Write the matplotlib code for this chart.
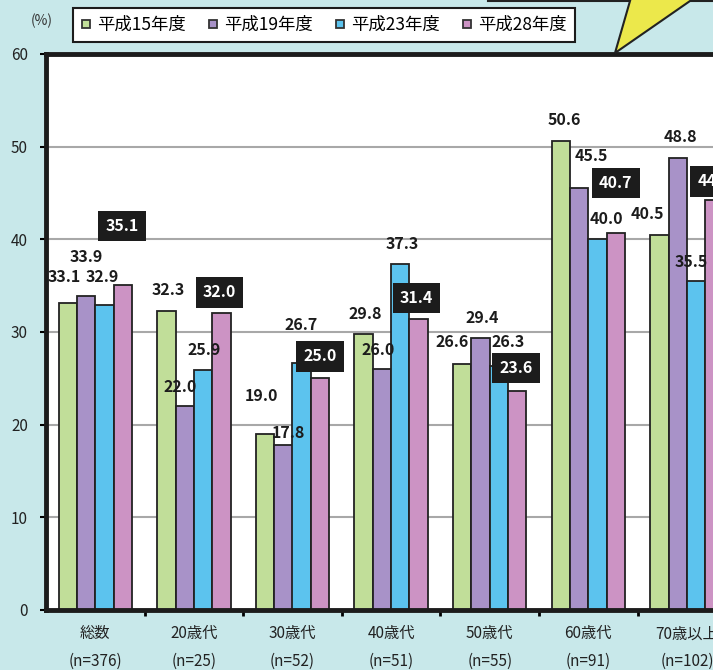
import numpy as np
import matplotlib
matplotlib.use('Agg')
import matplotlib.pyplot as plt
from matplotlib.lines import Line2D
from matplotlib.patches import Polygon

plt.rcParams['font.family'] = ['Noto Sans CJK JP', 'DejaVu Sans']

# Datos
grupos = ['総数', '20歳代', '30歳代', '40歳代', '50歳代', '60歳代', '70歳以上']
muestras = ['(n=376)', '(n=25)', '(n=52)', '(n=51)', '(n=55)', '(n=91)', '(n=102)']
series = ['平成15年度', '平成19年度', '平成23年度', '平成28年度']
h15 = [33.1, 32.3, 19.0, 29.8, 26.6, 50.6, 40.5]
h19 = [33.9, 22.0, 17.8, 26.0, 29.4, 45.5, 48.8]
h23 = [32.9, 25.9, 26.7, 37.3, 26.3, 40.0, 35.5]
h28 = [35.1, 32.0, 25.0, 31.4, 23.6, 40.7, 44.2]

colores = ['#c1de99', '#a892c8', '#5cc3ee', '#cc93c4']

# desplazamiento de cada etiqueta (pixeles) respecto a la punta de la barra
desp = [
    [(-4, 26), (1.5, 21), (-3, 38), (2, 20), (-10, 22), (3, 21), (-12.5, 20.5)],
    [(0, 39), (-5, 19), (5.5, 12), (-4, 19), (2, 19.5), (12, 32), (3, 20.6)],
    [(-2, 28), (1, 20), (-1, 37.5), (1.5, 20), (9, 24), (9, 20), (-5, 19)],
    [(-1, 59), (-2, 21), (0, 22), (-2, 21), (-1.5, 23), (0, 50), (0, 19)],
]

W, H = 713, 670
fig = plt.figure(figsize=(W / 100, H / 100), dpi=100)
fig.patch.set_facecolor('#c8e8ea')

ax = fig.add_axes([46 / W, (H - 610) / H, 98.6 * 7 / W, (610 - 54) / H])
ax.set_facecolor('white')

x = np.arange(len(grupos))
ancho = 0.186
for j, vals in enumerate([h15, h19, h23, h28]):
    pos = x + (j - 1.5) * ancho
    ax.bar(pos, vals, width=ancho, color=colores[j], edgecolor='#222222',
           linewidth=1.3, zorder=2)
    for i, v in enumerate(vals):
        dx, dy = desp[j][i]
        if j == 3:
            ax.annotate(f'{v:.1f}', xy=(pos[i], v), xytext=(dx, dy),
                        textcoords='offset pixels', ha='center', va='center',
                        fontsize=11.5, fontweight='bold', color='white', zorder=5,
                        bbox=dict(boxstyle='square,pad=0.45', fc='#1c1c1c', ec='none'))
        else:
            ax.annotate(f'{v:.1f}', xy=(pos[i], v), xytext=(dx, dy),
                        textcoords='offset pixels', ha='center', va='center',
                        fontsize=11.5, fontweight='bold', color='#1c1c1c', zorder=5)

ax.set_xlim(-0.5, 6.5)
ax.set_ylim(0, 60)
ax.set_yticks(range(0, 61, 10))
ax.yaxis.grid(True, color='#a8a8a8', linewidth=1.5)
ax.set_axisbelow(True)

ax.set_xticks(x)
ax.set_xticklabels([f'{g}\n{n}' for g, n in zip(grupos, muestras)],
                   fontsize=11, linespacing=1.8, color='#222222')
ax.set_xticks(x[:-1] + 0.5, minor=True)
ax.tick_params(axis='x', which='major', length=0, pad=11)
ax.tick_params(axis='x', which='minor', length=4, width=2, direction='out')
ax.tick_params(axis='y', length=4, width=1.5, pad=9, labelsize=11,
               labelcolor='#222222')

for lado in ['top', 'left', 'bottom']:
    ax.spines[lado].set_linewidth(3.5)
    ax.spines[lado].set_color('#1c1c1c')
ax.spines['right'].set_visible(False)

fig.text(42 / W, 1 - 21 / H, '(%)', ha='center', va='center', fontsize=10,
         color='#333333')

# Leyenda
handles = [Line2D([], [], marker='s', linestyle='none', markersize=5.5,
                  markerfacecolor=c, markeredgecolor='#333333',
                  markeredgewidth=1.3) for c in colores]
leg = fig.legend(handles, series, loc='center', ncol=4,
                 bbox_to_anchor=(324 / W, 1 - 25 / H), fontsize=12.5,
                 frameon=True, fancybox=False, edgecolor='#1c1c1c',
                 facecolor='white', framealpha=1,
                 handlelength=0.6, handletextpad=0.35, columnspacing=1.25,
                 borderpad=0.45)
leg.get_frame().set_linewidth(1.5)

# Globo amarillo
pts = [(488, -10), (488, 1), (630, 1), (615, 53), (690, 1), (720, 1), (720, -10)]
globo = Polygon([(px / W, 1 - py / H) for px, py in pts], closed=True,
                transform=fig.transFigure, facecolor='#ece84b',
                edgecolor='#222222', linewidth=1.5, zorder=10, clip_on=False)
fig.add_artist(globo)

plt.savefig('out.png', dpi=100, facecolor=fig.get_facecolor())
